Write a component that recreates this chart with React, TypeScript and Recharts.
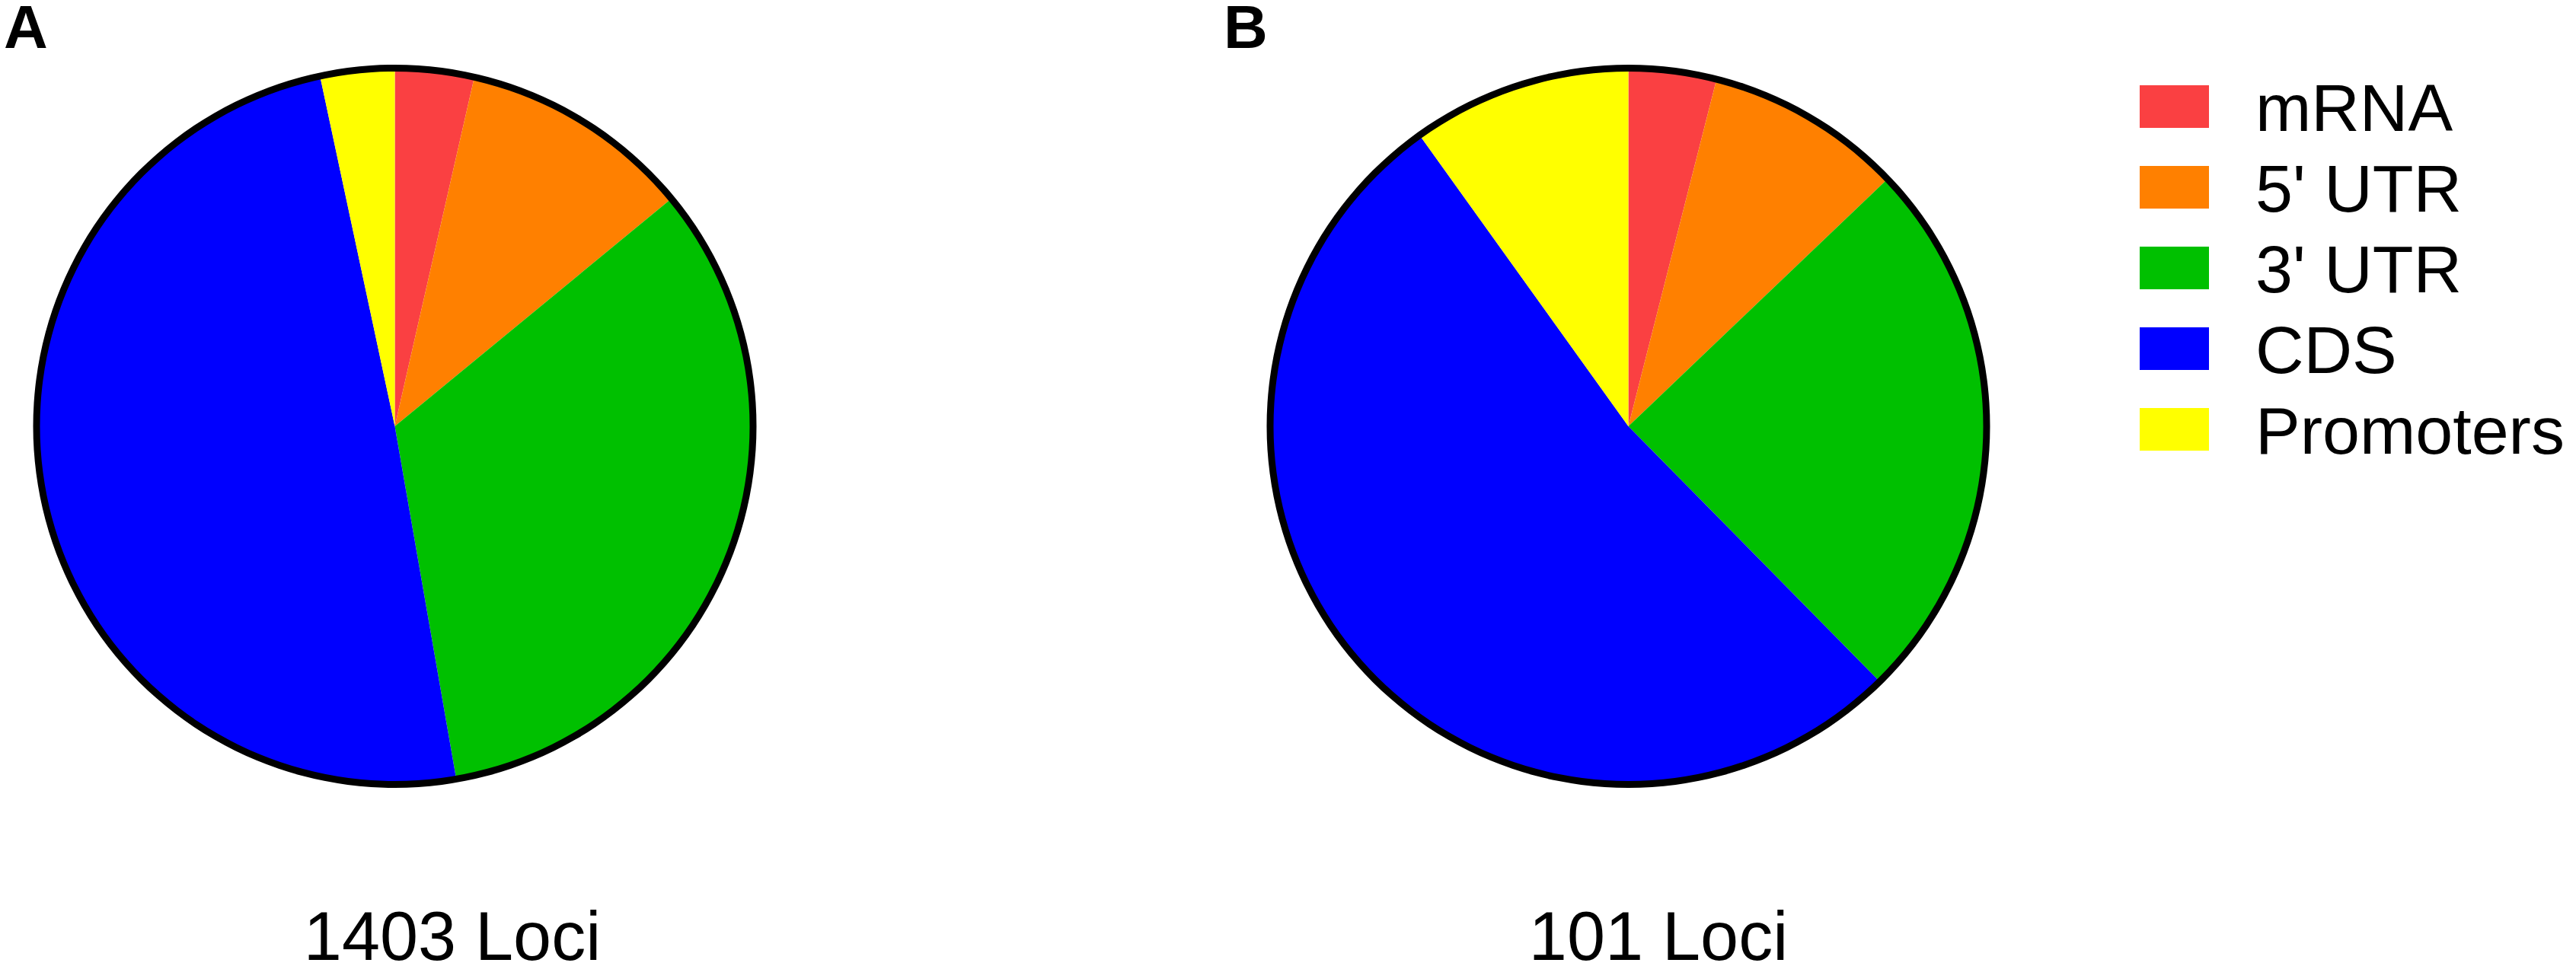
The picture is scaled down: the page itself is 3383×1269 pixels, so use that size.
import { PieChart, Pie, Cell, Legend } from "recharts";

// categories and colours shared by both pies
const categories = ["mRNA", "5' UTR", "3' UTR", "CDS", "Promoters"];
const colors = ["#FA4042", "#FF8000", "#00C000", "#0000FF", "#FFFF00"];

// loci counts
const lociA = [50, 147, 466, 693, 47]; // 1403 loci
const lociB = [4, 9, 25, 53, 10]; // 101 loci

const panelLabels = ["A", "B"];
const totalLabels = ["1403 Loci", "101 Loci"];

const dataA = categories.map((name, i) => ({ name, value: lociA[i] }));
const dataB = categories.map((name, i) => ({ name, value: lociB[i] }));
const ring = [{ name: "border", value: 1 }];

const FONT = "'Liberation Sans', Arial, Helvetica, sans-serif";
const W = 3383;
const H = 1269;
const R = 470;

const LegendContent = () => (
  <svg width={573} height={640}>
    {categories.map((c, i) => {
      const cy = 140 + i * 106;
      return (
        <g key={c}>
          <rect x={0} y={cy - 28} width={91} height={56} fill={colors[i]} />
          <text x={152} y={cy + 32} fontSize={88} fontFamily={FONT} fill="#000">
            {c}
          </text>
        </g>
      );
    })}
  </svg>
);

const App = () => {
  return (
    <div style={{ position: "absolute", left: 0, top: 0, background: "#fff" }}>
      <PieChart width={W} height={H} margin={{ top: 0, right: 0, bottom: 0, left: 0 }}>
        {/* pie A */}
        <Pie
          data={dataA}
          dataKey="value"
          cx={518.5}
          cy={560}
          outerRadius={R}
          startAngle={90}
          endAngle={-270}
          stroke="none"
          isAnimationActive={false}
        >
          {dataA.map((d, i) => (
            <Cell key={d.name} fill={colors[i]} />
          ))}
        </Pie>
        <Pie
          data={ring}
          dataKey="value"
          cx={518.5}
          cy={560}
          innerRadius={R - 4}
          outerRadius={R + 5}
          startAngle={90}
          endAngle={-270}
          fill="#000"
          stroke="none"
          legendType="none"
          isAnimationActive={false}
        />

        {/* pie B */}
        <Pie
          data={dataB}
          dataKey="value"
          cx={2138.5}
          cy={560}
          outerRadius={R}
          startAngle={90}
          endAngle={-270}
          stroke="none"
          isAnimationActive={false}
        >
          {dataB.map((d, i) => (
            <Cell key={d.name} fill={colors[i]} />
          ))}
        </Pie>
        <Pie
          data={ring}
          dataKey="value"
          cx={2138.5}
          cy={560}
          innerRadius={R - 4}
          outerRadius={R + 5}
          startAngle={90}
          endAngle={-270}
          fill="#000"
          stroke="none"
          legendType="none"
          isAnimationActive={false}
        />

        <Legend
          content={<LegendContent />}
          wrapperStyle={{ position: "absolute", left: 2810, top: 0, width: 573 }}
        />

        <text x={5} y={63} fontSize={80} fontWeight="bold" fontFamily={FONT} fill="#000">
          {panelLabels[0]}
        </text>
        <text x={1607} y={63} fontSize={80} fontWeight="bold" fontFamily={FONT} fill="#000">
          {panelLabels[1]}
        </text>
        <text x={594} y={1261} fontSize={90} textAnchor="middle" fontFamily={FONT} fill="#000">
          {totalLabels[0]}
        </text>
        <text x={2178} y={1261} fontSize={90} textAnchor="middle" fontFamily={FONT} fill="#000">
          {totalLabels[1]}
        </text>
      </PieChart>
    </div>
  );
};

export default App;
